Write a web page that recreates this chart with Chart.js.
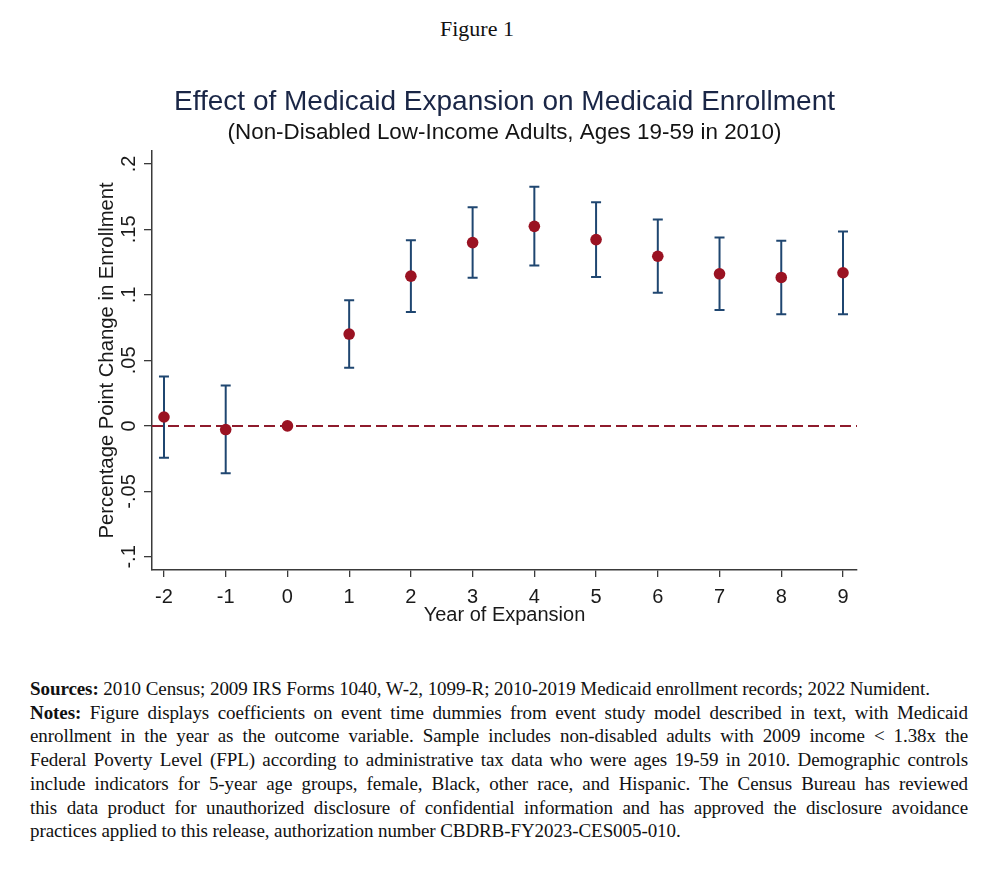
<!DOCTYPE html>
<html>
<head>
<meta charset="utf-8">
<script src="https://cdn.jsdelivr.net/npm/chart.js@4.4.1/dist/chart.umd.min.js"></script>
<style>
  html, body { margin: 0; padding: 0; background: #ffffff; }
  body { width: 1000px; height: 881px; position: relative; overflow: hidden; }
  #fig { position: absolute; top: 14px; left: 0; width: 954px; text-align: center;
         font-family: "Liberation Serif", "Times New Roman", serif; font-size: 22px; line-height: 30px; color: #111; }
  #wrap { position: absolute; top: 0; left: 0; width: 1000px; height: 650px; }
  #notes { position: absolute; top: 677px; left: 30px; width: 938px;
           font-family: "Liberation Serif", "Times New Roman", serif; font-size: 19px; letter-spacing: -0.08px;
           line-height: 23.7px; color: #111; }
  #notes div { white-space: nowrap; }
  #notes .j { text-align: justify; text-align-last: justify; }
</style>
</head>
<body>
<div id="fig">Figure 1</div>
<div id="wrap"><canvas id="c"></canvas></div>
<div id="notes">
  <div><b>Sources:</b> 2010 Census; 2009 IRS Forms 1040, W-2, 1099-R; 2010-2019 Medicaid enrollment records; 2022 Numident.</div>
  <div class="j"><b>Notes:</b> Figure displays coefficients on event time dummies from event study model described in text, with Medicaid</div>
  <div class="j">enrollment in the year as the outcome variable. Sample includes non-disabled adults with 2009 income &lt; 1.38x the</div>
  <div class="j">Federal Poverty Level (FPL) according to administrative tax data who were ages 19-59 in 2010. Demographic controls</div>
  <div class="j">include indicators for 5-year age groups, female, Black, other race, and Hispanic. The Census Bureau has reviewed</div>
  <div class="j">this data product for unauthorized disclosure of confidential information and has approved the disclosure avoidance</div>
  <div>practices applied to this release, authorization number CBDRB-FY2023-CES005-010.</div>
</div>
<script>
// ---- data ----
const years  = [-2, -1, 0, 1, 2, 3, 4, 5, 6, 7, 8, 9];
const coef   = [0.0068, -0.0028, 0.0, 0.0701, 0.1143, 0.1399, 0.1523, 0.1422, 0.1295, 0.1161, 0.1133, 0.1169];
const ciLow  = [-0.0243, -0.0361, null, 0.0443, 0.0870, 0.1131, 0.1225, 0.1136, 0.1017, 0.0885, 0.0853, 0.0853];
const ciHigh = [0.0377, 0.0309, null, 0.0959, 0.1417, 0.1669, 0.1826, 0.1707, 0.1576, 0.1439, 0.1414, 0.1483];
const yTickValues = [-0.1, -0.05, 0, 0.05, 0.1, 0.15, 0.2];
const yTickLabels = ['-.1', '-.05', '0', '.05', '.1', '.15', '.2'];
const xTickValues = [-2, -1, 0, 1, 2, 3, 4, 5, 6, 7, 8, 9];
const xRange = [-2.194, 9.227];
const yRange = [-0.11, 0.21];
const refLineY = 0;

const titleText = 'Effect of Medicaid Expansion on Medicaid Enrollment';
const subtitleText = '(Non-Disabled Low-Income Adults, Ages 19-59 in 2010)';
const xTitle = 'Year of Expansion';
const yTitle = 'Percentage Point Change in Enrollment';

// build datasets from arrays
const pointData = years.map((x, i) => ({ x: x, y: coef[i] }));
const barData = [];
years.forEach((x, i) => {
  if (ciLow[i] === null) return;
  barData.push({ x: x, y: ciLow[i] });
  barData.push({ x: x, y: ciHigh[i] });
  barData.push({ x: x, y: null });
});
const refData = [{ x: xRange[0], y: refLineY }, { x: xRange[1], y: refLineY }];

const NAVY = '#1f4670';
const RED = '#9a1222';
const AXIS = '#3a3a3a';
const SANS = '"Liberation Sans", Arial, sans-serif';

new Chart(document.getElementById('c'), {
  type: 'scatter',
  data: {
    datasets: [
      { label: 'coef', data: pointData, order: 0, showLine: false,
        pointRadius: 5.8, pointBackgroundColor: RED, pointBorderColor: RED, pointBorderWidth: 0 },
      { label: 'ref', data: refData, order: 1, showLine: true, borderColor: '#8e1b2c', borderWidth: 2,
        borderDash: [11, 5], pointRadius: 0, fill: false },
      { label: 'ci', data: barData, order: 2, showLine: true, spanGaps: false, borderColor: NAVY, borderWidth: 2,
        pointStyle: 'line', pointRadius: 5, pointBorderColor: NAVY, pointBorderWidth: 2, fill: false }
    ]
  },
  options: {
    responsive: true,
    maintainAspectRatio: false,
    animation: false,
    events: [],
    layout: { padding: { left: 90, right: 143, top: 0, bottom: 20 } },
    plugins: {
      legend: { display: false },
      tooltip: { enabled: false },
      title: { display: true, fullSize: false, text: titleText, color: '#1a2646',
               font: { family: SANS, size: 28, weight: 'normal' }, padding: { top: 85, bottom: 0 } },
      subtitle: { display: true, fullSize: false, text: subtitleText, color: '#141414',
               font: { family: SANS, size: 22.4, weight: 'normal' }, padding: { top: 1, bottom: 4.3 } }
    },
    scales: {
      x: {
        type: 'linear', min: xRange[0], max: xRange[1],
        afterBuildTicks: (s) => { s.ticks = xTickValues.map(v => ({ value: v })); },
        afterFit: (s) => { s.height = 60; },
        ticks: { color: '#1a1a1a', font: { family: SANS, size: 20 }, padding: 8,
                 callback: (v) => String(v) },
        grid: { display: true, drawOnChartArea: false, drawTicks: true, tickLength: 7, color: AXIS, lineWidth: 1.3 },
        border: { display: true, color: AXIS, width: 1.5 },
        title: { display: true, text: xTitle, color: '#1a1a1a', font: { family: SANS, size: 20 },
                 padding: { top: 0, bottom: 2.6 } }
      },
      y: {
        type: 'linear', min: yRange[0], max: yRange[1],
        afterBuildTicks: (s) => { s.ticks = yTickValues.map(v => ({ value: v })); },
        afterFit: (s) => { s.width = 62; },
        ticks: { color: '#1a1a1a', font: { family: SANS, size: 20 }, padding: -3,
                 minRotation: 90, maxRotation: 90, crossAlign: 'center',
                 callback: (v) => { const i = yTickValues.findIndex(t => Math.abs(t - v) < 1e-9); return i >= 0 ? yTickLabels[i] : ''; } },
        grid: { display: true, drawOnChartArea: false, drawTicks: true, tickLength: 8, color: AXIS, lineWidth: 1.3 },
        border: { display: true, color: AXIS, width: 1.5 },
        title: { display: true, text: yTitle, color: '#1a1a1a', font: { family: SANS, size: 20.3 },
                 padding: { top: 5, bottom: 0 } }
      }
    }
  }
});
</script>
</body>
</html>
